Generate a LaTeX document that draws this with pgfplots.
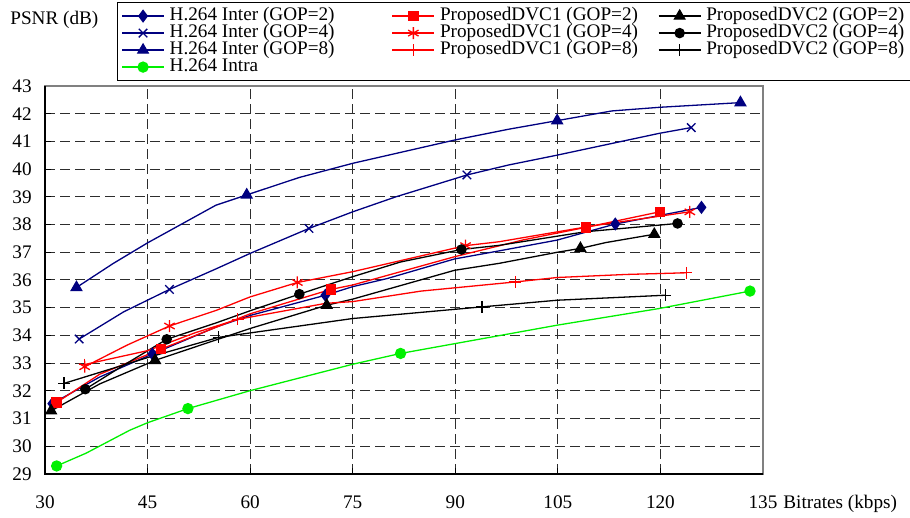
\documentclass[border=0pt]{standalone}
\usepackage{fontspec}
\setmainfont{Liberation Serif}
\usepackage{pgfplots}
\pgfplotsset{compat=1.18}

\definecolor{navy}{RGB}{0,0,128}
\definecolor{intra}{RGB}{0,240,0}

\newcommand{\cola}[1]{\makebox[108.5pt][l]{#1}}
\newcommand{\colb}[1]{\makebox[106.5pt][l]{#1}}

\begin{document}
\begin{tikzpicture}[font=\fontsize{9.6}{10}\selectfont]
\useasboundingbox (-22.5pt,-22pt) rectangle (432.5pt,237pt);
\begin{axis}[
    name=ax,
    at={(0,0)}, anchor=south west,
    scale only axis,
    width=359pt, height=194pt,
    xmin=30, xmax=135, ymin=29, ymax=43,
    xtick={30,45,...,135},
    ytick={29,30,...,43},
    grid=major,
    major grid style={dash pattern=on 5pt off 2.5pt, gray!35!black, line width=0.5pt},
    axis line style={gray, line width=0.8pt},
    tick align=inside,
    tick pos=left,
    major tick length=3pt,
    tick style={black, line width=0.5pt},
    /pgf/number format/assume math mode=true,
    xticklabel style={inner sep=0pt, text height=7pt, text depth=2pt, yshift=-10pt},
    yticklabel style={inner sep=0pt, xshift=-6.5pt},
    xlabel={Bitrates (kbps)},
    xlabel style={at={(rel axis cs:1,0)}, anchor=north west, inner sep=0pt,
        text height=7pt, text depth=2pt, yshift=-10pt, xshift=10pt},
    every axis plot/.append style={line width=0.65pt, mark options={solid}},
    legend columns=3,
    legend image code/.code={\draw[#1, mark indices={2}] plot coordinates {(0pt,0pt) (10.5pt,0pt) (21pt,0pt)};},
    legend style={at={(0.1003,1)}, anchor=south west, yshift=2.5pt,
        draw=black, inner xsep=2pt, inner ysep=2.5pt,
        row sep=0pt, column sep=0pt,
        cells={anchor=west},
        nodes={inner xsep=2.5pt, inner ysep=0pt, text height=6.6pt, text depth=1.9pt}},
]

% --- row 1 of the legend: GOP=2 ---
\addplot[navy, mark=diamond*, mark size=2.8pt, mark indices={1,3,6,12,13}] coordinates {
    (31.07,31.54) (38,32.5) (45.7,33.33) (55,34.3) (60,34.72) (71,35.45)
    (75,35.76) (80,36.05) (89.9,36.76) (96.4,37.05) (104.9,37.44) (113.4,38.02) (126,38.62)
};
\addlegendentry{\cola{H.264 Inter (GOP=2)}}

\addplot[red, mark=square*, mark size=2.3pt, mark indices={1,3,5,9,10}] coordinates {
    (31.7,31.58) (38,32.6) (47,33.51) (60,34.78) (71.8,35.66)
    (75,35.82) (89.9,36.84) (100,37.45) (109.1,37.9) (119.9,38.46)
};
\addlegendentry{\colb{ProposedDVC1 (GOP=2)}}

\addplot[black, mark=triangle*, mark size=3pt, mark indices={1,3,5,10,12}] coordinates {
    (30.9,31.28) (38,32.25) (46.1,33.1) (60,34.25) (71.2,35.09) (75,35.31)
    (89.9,36.35) (96.4,36.6) (104.9,37.0) (108.3,37.14) (112,37.35) (119.1,37.65)
};
\addlegendentry{ProposedDVC2 (GOP=2)}

% --- row 2: GOP=4 ---
\addplot[navy, mark=x, mark size=3pt, mark indices={1,3,6,9,13}] coordinates {
    (35,33.87) (41.5,34.85) (48.2,35.66) (55,36.4) (60,36.96) (68.6,37.86)
    (75,38.46) (81.3,39.0) (91.7,39.79) (97.8,40.15) (104.8,40.5) (119.8,41.29) (124.5,41.5)
};
\addlegendentry{\cola{H.264 Inter (GOP=4)}}

\addplot[red, mark=asterisk, mark size=3pt, mark indices={1,3,6,8,11}] coordinates {
    (35.8,32.87) (42,33.65) (48.2,34.34) (55,34.9) (60,35.39) (66.9,35.91)
    (75,36.3) (91.5,37.24) (96.4,37.38) (110,37.95) (124.3,38.46)
};
\addlegendentry{\colb{ProposedDVC1 (GOP=4)}}

\addplot[black, mark=*, mark size=2.3pt, mark indices={1,3,6,9,12}] coordinates {
    (35.9,32.06) (42,33.0) (47.8,33.86) (55,34.45) (60,34.89) (67.2,35.49)
    (75,36.12) (82,36.65) (90.9,37.1) (96.4,37.25) (109,37.74) (122.5,38.04)
};
\addlegendentry{ProposedDVC2 (GOP=4)}

% --- row 3: GOP=8 ---
\addplot[navy, mark=triangle*, mark size=3pt, mark indices={1,5,10,13}] coordinates {
    (34.6,35.73) (40,36.6) (45,37.34) (55,38.7) (59.5,39.07) (67.2,39.7)
    (75,40.21) (89.9,41.05) (97.8,41.44) (104.9,41.75) (112.9,42.1) (119.8,42.23) (131.7,42.4)
};
\addlegendentry{\cola{H.264 Inter (GOP=8)}}

\addplot[red, mark=+, mark size=3pt, mark indices={1,4,8,11}] coordinates {
    (35.8,32.95) (45,33.45) (52,34.1) (58.2,34.58) (71.1,35.16) (75,35.22)
    (85,35.6) (98.8,35.93) (104.9,36.09) (115,36.2) (123.8,36.26)
};
\addlegendentry{\colb{ProposedDVC1 (GOP=8)}}

\addplot[black, mark=+, mark size=3pt, mark indices={1,3,6,8}] coordinates {
    (32.8,32.27) (45,33.2) (55.4,33.93) (60,34.09) (75,34.61)
    (93.9,35.03) (104.9,35.27) (120.7,35.45)
};
\addlegendentry{ProposedDVC2 (GOP=8)}

% --- row 4: intra ---
\addplot[intra, mark=*, mark size=2.5pt, mark indices={1,5,8,11}] coordinates {
    (31.7,29.29) (36,29.75) (42.4,30.58) (45,30.85) (50.9,31.36) (59.9,32.0)
    (75,32.96) (82,33.35) (104.9,34.37) (119.8,34.97) (133.1,35.6)
};
\addlegendentry{\cola{H.264 Intra}}

\end{axis}
\draw[black, line width=1pt] (ax.north west) -- (ax.south west) -- (ax.south east);
\node[anchor=south west, inner sep=0pt] at ([xshift=-17.5pt, yshift=28.5pt]ax.north west) {PSNR (dB)};
\end{tikzpicture}
\end{document}
